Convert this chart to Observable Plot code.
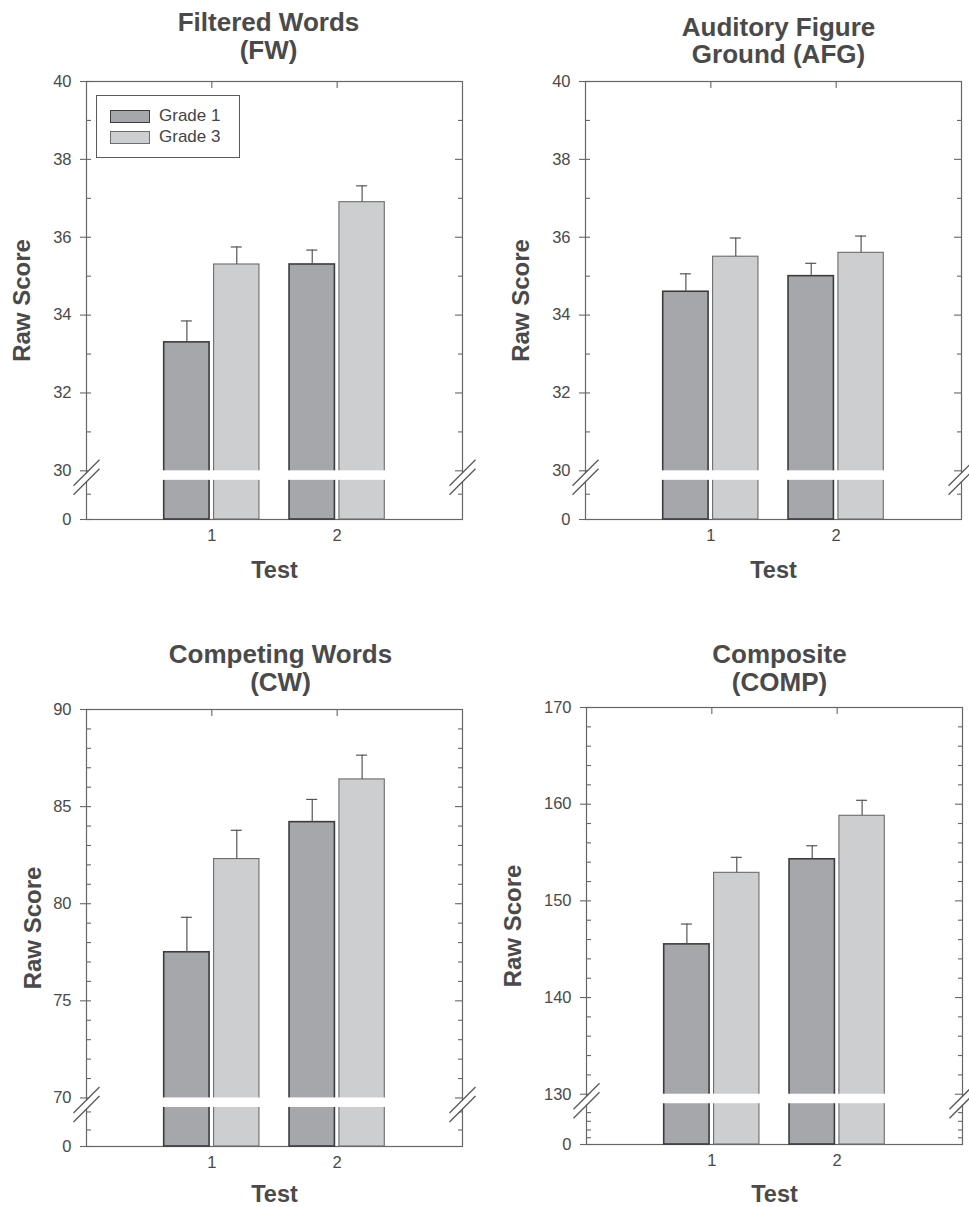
<!DOCTYPE html>
<html><head><meta charset="utf-8">
<script src="https://cdn.jsdelivr.net/npm/d3@7"></script>
<script src="https://cdn.jsdelivr.net/npm/@observablehq/plot@0.6"></script>
<style>
body{margin:0;background:#fff;font-family:"Liberation Sans",Arial,sans-serif;}
#wrap{position:relative;width:969px;height:1207px;overflow:hidden;background:#fff;}
.panel{position:absolute;}
.panel svg{overflow:visible;}
.legend{position:absolute;border:1px solid #5a5a5a;background:#fff;box-sizing:border-box;color:#444;font-size:17px;}
.legend .sw{position:absolute;box-sizing:border-box;width:40px;height:13px;}
.legend .lab{position:absolute;line-height:17px;white-space:nowrap;}
</style></head><body><div id="wrap"></div>
<script>
// ---- data ----
const tests = [1, 2];
const grades = ["Grade 1", "Grade 3"];

const fwGrade1 = [33.3, 35.3];
const fwGrade3 = [35.3, 36.9];
const fwErr1 = [0.55, 0.37];
const fwErr3 = [0.45, 0.42];

const afgGrade1 = [34.6, 35.0];
const afgGrade3 = [35.5, 35.6];
const afgErr1 = [0.46, 0.33];
const afgErr3 = [0.48, 0.43];

const cwGrade1 = [77.5, 84.2];
const cwGrade3 = [82.3, 86.4];
const cwErr1 = [1.8, 1.17];
const cwErr3 = [1.48, 1.25];

const compGrade1 = [145.5, 154.3];
const compGrade3 = [152.9, 158.8];
const compErr1 = [2.1, 1.4];
const compErr3 = [1.6, 1.6];

// tick values
const fwTicks = [30, 32, 34, 36, 38, 40];
const fwMinor = [31, 33, 35, 37, 39];
const fwLowerMinor = [29.4];
const afgTicks = [30, 32, 34, 36, 38, 40];
const afgMinor = [31, 33, 35, 37, 39];
const afgLowerMinor = [29.4];
const cwTicks = [70, 75, 80, 85, 90];
const cwMinor = [71, 72, 73, 74, 76, 77, 78, 79, 81, 82, 83, 84, 86, 87, 88, 89];
const cwLowerMinor = [68.35, 69.28];
const compTicks = [130, 140, 150, 160, 170];
const compMinor = [132, 134, 136, 138, 142, 144, 146, 148, 152, 154, 156, 158, 162, 164, 166, 168];
const compLowerMinor = [125.5, 126.3, 127.2, 128.1];

const titles = [["Filtered Words", "(FW)"], ["Auditory Figure", "Ground (AFG)"], ["Competing Words", "(CW)"], ["Composite", "(COMP)"]];
const yLabel = "Raw Score";
const xLabel = "Test";

// ---- layout / style ----
const ink = "#4a4a4a";
const lineCol = "#666";
const fill1 = "#a6a7aa", stroke1 = "#3c3c3c";
const fill3 = "#cdcecf", stroke3 = "#6c6c6c";

const panels = [
  {title: titles[0], g1: fwGrade1, g3: fwGrade3, e1: fwErr1, e3: fwErr3, majors: fwTicks, minors: fwMinor, lower: fwLowerMinor,
   base: 28.75, brk: 30, top: 40, left: 0, topPx: 0, width: 480, height: 600, ml: 86, mr: 18, mt: 81, mb: 81,
   titleDy: [-51, -23], titleDx: -6, yLabDx: -64, xLabDy: 58, legend: true},
  {title: titles[1], g1: afgGrade1, g3: afgGrade3, e1: afgErr1, e3: afgErr3, majors: afgTicks, minors: afgMinor, lower: afgLowerMinor,
   base: 28.75, brk: 30, top: 40, left: 480, topPx: 0, width: 489, height: 600, ml: 105, mr: 8, mt: 81, mb: 81,
   titleDy: [-46, -19], titleDx: 5, yLabDx: -64, xLabDy: 58},
  {title: titles[2], g1: cwGrade1, g3: cwGrade3, e1: cwErr1, e3: cwErr3, majors: cwTicks, minors: cwMinor, lower: cwLowerMinor,
   base: 67.5, brk: 70, top: 90, left: 0, topPx: 600, width: 480, height: 607, ml: 86, mr: 18, mt: 109, mb: 61,
   titleDy: [-47, -19], titleDx: 6, yLabDx: -53, xLabDy: 55},
  {title: titles[3], g1: compGrade1, g3: compGrade3, e1: compErr1, e3: compErr3, majors: compTicks, minors: compMinor, lower: compLowerMinor,
   base: 124.8, brk: 130, top: 170, left: 480, topPx: 600, width: 489, height: 607, ml: 106, mr: 7, mt: 107, mb: 63,
   titleDy: [-45, -17], titleDx: 5, yLabDx: -73, xLabDy: 57}
];

const wrap = document.getElementById("wrap");

function makePanel(p) {
  const rows = tests.flatMap((t, i) => [
    {test: t, grade: grades[0], value: p.g1[i], err: p.e1[i]},
    {test: t, grade: grades[1], value: p.g3[i], err: p.e3[i]}
  ]);
  const plotW = p.width - p.ml - p.mr;
  const plotH = p.height - p.mt - p.mb;
  const pxX = plotW / 3;
  const pxY = plotH / (p.top - p.base);
  const off = {"Grade 1": [-0.38, -0.018], "Grade 3": [0.018, 0.38]};
  const xc = d => d.test + (off[d.grade][0] + off[d.grade][1]) / 2;
  const capHalf = 5.5 / pxX;
  const gap = 9.5 / pxY;
  const hx = 13 / pxX, hy = 13 / pxY;
  const axisPos = [0, 3];
  const breakLink = (shiftPx, stroke, sw) => Plot.link(axisPos, {
    x1: a => a - hx, x2: a => a + hx,
    y1: () => p.brk - shiftPx / pxY - hy, y2: () => p.brk - shiftPx / pxY + hy,
    stroke, strokeWidth: sw
  });
  const g1 = rows.filter(d => d.grade === grades[0]);
  const g3 = rows.filter(d => d.grade === grades[1]);
  const leftMaj = [...p.majors, p.base];
  const rightMaj = p.majors.filter(v => v !== p.top);
  const allMinor = [...p.minors, ...p.lower];

  const svg = Plot.plot({
    width: p.width, height: p.height,
    marginLeft: p.ml, marginRight: p.mr, marginTop: p.mt, marginBottom: p.mb,
    x: {domain: [0, 3]},
    y: {domain: [p.base, p.top]},
    style: {fontFamily: '"Liberation Sans", Arial, sans-serif', fontSize: "16.5px", color: ink, background: "transparent", overflow: "visible"},
    marks: [
      Plot.frame({stroke: lineCol, strokeWidth: 1.2}),
      Plot.rectY(g1, {x1: d => d.test + off[d.grade][0], x2: d => d.test + off[d.grade][1], y1: () => p.base, y2: "value", fill: fill1, stroke: stroke1, strokeWidth: 1.6}),
      Plot.rectY(g3, {x1: d => d.test + off[d.grade][0], x2: d => d.test + off[d.grade][1], y1: () => p.base, y2: "value", fill: fill3, stroke: stroke3, strokeWidth: 1.1}),
      Plot.rect(tests, {x1: t => t - 0.395, x2: t => t + 0.395, y1: () => p.brk - gap, y2: () => p.brk, fill: "white"}),
      Plot.ruleX(rows, {x: xc, y1: "value", y2: d => d.value + d.err, stroke: "#555", strokeWidth: 1.2}),
      Plot.ruleY(rows, {y: d => d.value + d.err, x1: d => xc(d) - capHalf, x2: d => xc(d) + capHalf, stroke: "#555", strokeWidth: 1.2}),
      // left axis ticks
      Plot.tickY(leftMaj, {y: d => d, dx: -6, insetRight: plotW - 11, stroke: lineCol, strokeWidth: 1.1}),
      Plot.tickY(allMinor, {y: d => d, insetRight: plotW - 5, stroke: lineCol, strokeWidth: 1.1}),
      // right axis ticks
      Plot.tickY(rightMaj, {y: d => d, insetLeft: plotW - 7, stroke: lineCol, strokeWidth: 1.1}),
      Plot.tickY(allMinor, {y: d => d, insetLeft: plotW - 4, stroke: lineCol, strokeWidth: 1.1}),
      // top ticks
      Plot.tickX(tests, {x: d => d, insetBottom: plotH - 7, stroke: lineCol, strokeWidth: 1.1}),
      Plot.axisY({ticks: leftMaj, tickFormat: d => d === p.base ? "0" : String(d), tickSize: 0, tickPadding: 15, fontSize: 16.5, label: null}),
      Plot.axisX({ticks: tests, tickFormat: d => String(d), tickSize: 0, tickPadding: 10, fontSize: 16.5, label: null}),
      // axis breaks
      breakLink(6.5, "white", 6),
      breakLink(2, "#555", 1.3),
      breakLink(11, "#555", 1.3),
      // titles (two lines) and labels
      ...p.title.map((line, i) => Plot.text([line], {text: d => d, frameAnchor: "top", lineAnchor: "bottom", dy: p.titleDy[i], dx: p.titleDx, fontSize: 26, fontWeight: "bold", fill: ink})),
      Plot.text([yLabel], {text: d => d, frameAnchor: "left", rotate: -90, dx: p.yLabDx, textAnchor: "middle", lineAnchor: "middle", fontSize: 24, fontWeight: "bold", fill: ink}),
      Plot.text([xLabel], {text: d => d, frameAnchor: "bottom", lineAnchor: "bottom", dy: p.xLabDy, fontSize: 23.5, fontWeight: "bold", fill: ink})
    ]
  });

  const div = document.createElement("div");
  div.className = "panel";
  div.style.left = p.left + "px";
  div.style.top = p.topPx + "px";
  div.style.width = p.width + "px";
  div.style.height = p.height + "px";
  div.appendChild(svg);

  if (p.legend) {
    const lg = document.createElement("div");
    lg.className = "legend";
    lg.style.left = (p.ml + 10) + "px";
    lg.style.top = (p.mt + 14) + "px";
    lg.style.width = "144px";
    lg.style.height = "63px";
    const items = [
      {label: grades[0], fill: fill1, stroke: stroke1, bw: 1.6},
      {label: grades[1], fill: fill3, stroke: stroke3, bw: 1.1}
    ];
    items.forEach((it, i) => {
      const sw = document.createElement("div");
      sw.className = "sw";
      sw.style.left = "13px";
      sw.style.top = (14 + i * 21) + "px";
      sw.style.background = it.fill;
      sw.style.border = it.bw + "px solid " + it.stroke;
      lg.appendChild(sw);
      const lab = document.createElement("div");
      lab.className = "lab";
      lab.style.left = "62px";
      lab.style.top = (11 + i * 21) + "px";
      lab.textContent = it.label;
      lg.appendChild(lab);
    });
    div.appendChild(lg);
  }
  wrap.appendChild(div);
}

panels.forEach(makePanel);
</script></body></html>
